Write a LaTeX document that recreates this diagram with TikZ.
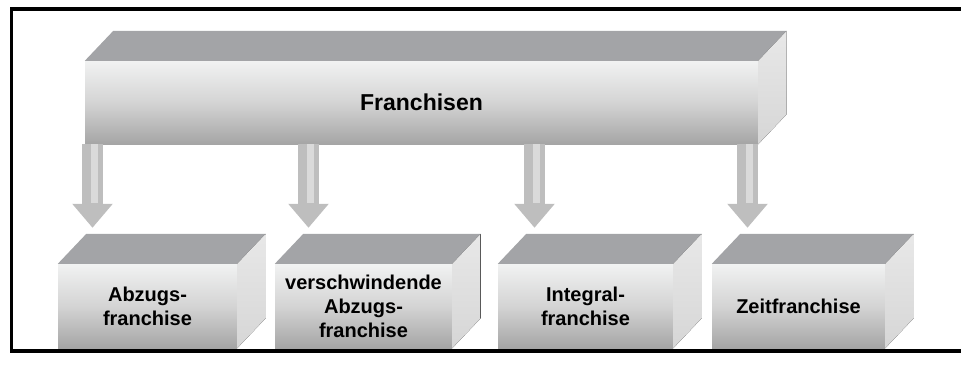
\documentclass[tikz,border=0pt]{standalone}
\usepackage{fontspec}
\setmainfont{Liberation Sans}
\usetikzlibrary{arrows.meta}

\definecolor{deckel}{HTML}{A3A4A7}
\definecolor{vornhell}{HTML}{F1F2F2}
\definecolor{vornmitte}{HTML}{D4D4D4}
\definecolor{vorndunkel}{HTML}{A5A5A5}
\definecolor{seitehell}{HTML}{E8E8E8}
\definecolor{seitedunkel}{HTML}{D6D6D6}
\definecolor{pfeilgrau}{HTML}{BEBEBE}
\definecolor{pfeilhell}{HTML}{DADADA}

\begin{document}
\begin{tikzpicture}[x=1pt, y=-1pt,
    kiste/.style={rectangle, inner sep=0pt, minimum height=84pt,
        top color=vornhell, bottom color=vorndunkel, middle color=vornmitte,
        font=\bfseries\fontsize{20}{24}\selectfont, align=center},
    deckelflaeche/.style={fill=deckel},
    seitenflaeche/.style={top color=seitehell, bottom color=seitedunkel},
    pfeil/.style={draw=pfeilgrau, line width=21pt,
        -{Triangle[width=39pt,length=24pt]}, shorten >=36pt},
    pfeilmitte/.style={draw=pfeilhell, line width=7pt, shorten >=61pt}]

    \useasboundingbox (0,0) rectangle (961,367);

    % Frame
    \draw[line width=3.5pt] (961,9) -- (11.5,9) -- (11.5,351) -- (961,351);

    % Draw nodes
    \node[kiste, minimum width=673pt, minimum height=83pt,
        font=\bfseries\fontsize{23}{28}\selectfont] (top) at (421.5,102.5) {Franchisen};
    \node[kiste, minimum width=179pt] (k1) at (147.5,306) {Abzugs-\\franchise};
    \node[kiste, minimum width=177pt] (k2) at (363.5,306) {verschwindende\\Abzugs-\\franchise};
    \node[kiste, minimum width=175pt] (k3) at (585.5,306) {Integral-\\franchise};
    \node[kiste, minimum width=173pt] (k4) at (798.5,306) {Zeitfranchise};

    % Top and side faces
    \foreach \n in {top,k1,k2,k3,k4} {
        \fill[deckelflaeche] (\n.north west) -- ([shift={(28.5,-30)}]\n.north west)
            -- ([shift={(28.5,-30)}]\n.north east) -- (\n.north east) -- cycle;
        \fill[seitenflaeche] (\n.north east) -- ([shift={(28.5,-30)}]\n.north east)
            -- ([shift={(28.5,-30)}]\n.south east) -- (\n.south east) -- cycle;
    }

    % Draw connections
    \foreach \k/\dx in {k1/-55, k2/-55, k3/-51, k4/-51} {
        \coordinate (p\k) at ([xshift=\dx pt]\k.north);
        \draw[pfeil] (p\k |- top.south) -- (p\k);
        \draw[pfeilmitte] ([xshift=1.5pt]p\k |- top.south) -- ([xshift=1.5pt]p\k);
    }
\end{tikzpicture}
\end{document}
